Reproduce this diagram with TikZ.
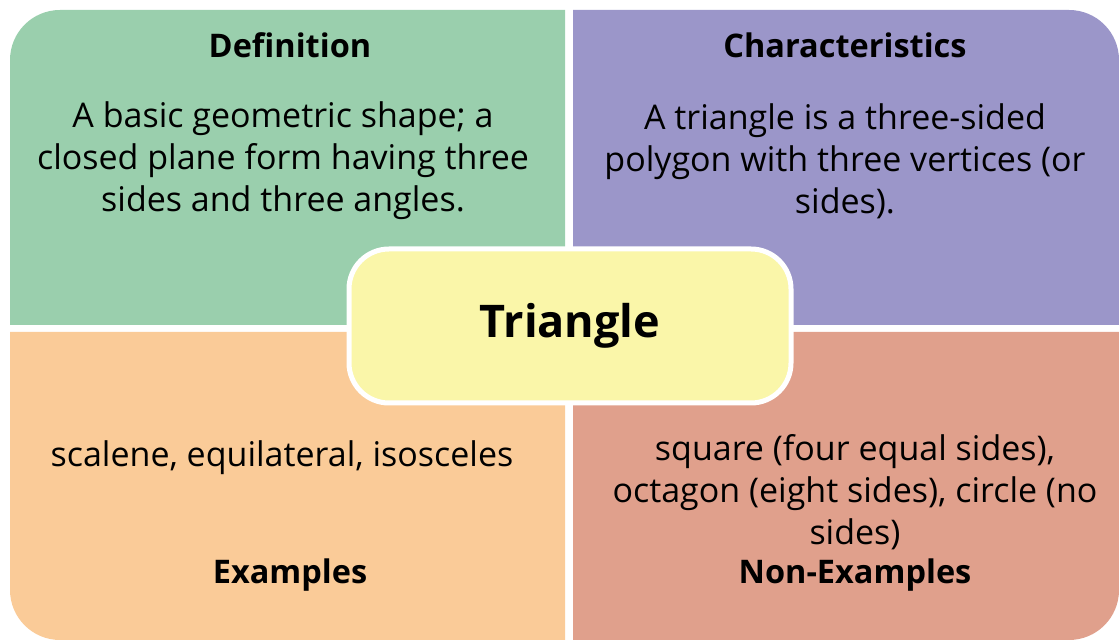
\documentclass[tikz,border=0pt]{standalone}
\usepackage{fontspec}
\setmainfont{Open Sans}
\usepackage{tikz}
\usetikzlibrary{positioning}
\definecolor{DefGreen}{HTML}{9ACFAD}
\definecolor{CharPurple}{HTML}{9B96C9}
\definecolor{ExOrange}{HTML}{FACB98}
\definecolor{NonSalmon}{HTML}{E0A08C}
\definecolor{CoreYellow}{HTML}{FAF6A9}

\begin{document}
\begin{tikzpicture}[
  x=1pt, y=1pt,
  heading/.style={
    font=\fontsize{32.5}{42}\selectfont\bfseries,
    inner sep=0pt
  },
  body/.style={
    align=center,
    font=\fontsize{34}{42}\selectfont,
    inner sep=0pt
  },
  core/.style={
    rectangle,
    rounded corners=40pt,
    draw=white,
    line width=5pt,
    fill=CoreYellow,
    minimum width=442pt,
    minimum height=154pt,
    font=\fontsize{45}{54}\selectfont\bfseries
  }
]
\useasboundingbox (0,0) rectangle (1119,642);
% quadrants
\fill[DefGreen] (565,317) -- (565,632) -- (60,632)
  arc[start angle=90, end angle=180, radius=50] -- (10,317) -- cycle;
\fill[CharPurple] (573,317) -- (573,632) -- (1069,632)
  arc[start angle=90, end angle=0, radius=50] -- (1119,317) -- cycle;
\fill[ExOrange] (565,310) -- (565,2) -- (60,2)
  arc[start angle=270, end angle=180, radius=50] -- (10,310) -- cycle;
\fill[NonSalmon] (573,310) -- (573,2) -- (1069,2)
  arc[start angle=270, end angle=360, radius=50] -- (1119,310) -- cycle;

% texts
\node[heading] (defhead) at (290,597) {Definition};
\node[body] (deftext) at (283,481) {A basic geometric shape; a\\closed plane form having three\\sides and three angles.};
\node[heading] (charhead) at (845,597) {Characteristics};
\node[body] (chartext) at (845,481) {A triangle is a three-sided\\polygon with three vertices (or\\sides).};
\node[body] (extext) at (282,184) {scalene, equilateral, isosceles};
\node[heading] (exhead) at (290,67) {Examples};
\node[body] (nontext) at (855,150) {square (four equal sides),\\octagon (eight sides), circle (no\\sides)};
\node[heading] (nonhead) at (855,67) {Non-Examples};

% centre
\node[core] (tri) at (570,316) {Triangle};
\end{tikzpicture}
\end{document}
